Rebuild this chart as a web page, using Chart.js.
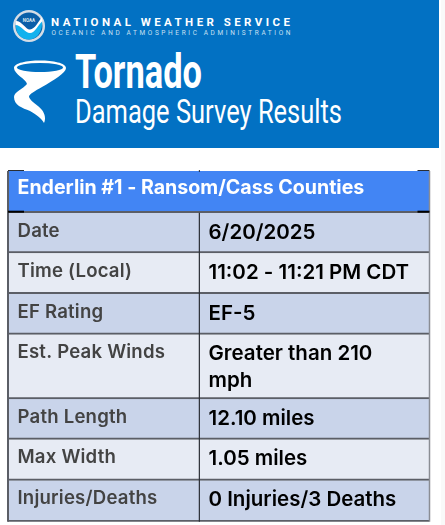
<!DOCTYPE html>
<html>
<head>
<meta charset="utf-8">
<title>Tornado Damage Survey Results</title>
<script src="https://cdn.jsdelivr.net/npm/chart.js@4/dist/chart.umd.min.js"></script>
<style>
  html, body { margin: 0; padding: 0; background: #fff; }
  body { width: 445px; height: 525px; overflow: hidden; position: relative; }
  #banner { position: absolute; left: 0; top: 0; }
  #edge { position: absolute; left: 441px; top: 0; width: 4px; height: 525px; background: #f9f9f9; }
  #table { position: absolute; left: 0; top: 0; width: 445px; height: 525px; }
</style>
</head>
<body>
<div id="edge"></div>
<svg id="banner" width="439" height="148" viewBox="0 0 439 148">
  <rect width="439" height="148" fill="#0271c3"/>
  <!-- noaa seal -->
  <circle cx="29" cy="26" r="16" fill="#d5dde6"/>
  <circle cx="29" cy="26" r="13.5" fill="#0a5fa8"/>
  <path d="M16 24 C22 24 26 32 30 32 C35 32 38 24 42 20 C43 30 38 39.5 29 39.5 C20 39.5 15 32 16 24Z" fill="#12b2ee"/>
  <path d="M16 21 C22 21 26 30 30 29.5 C35 29 38 22 42 17 L42.5 21 C38 25 35 33 30 33 C25 33 21 25 15.5 25Z" fill="#fff"/>
  <text x="29" y="21.5" text-anchor="middle" font-family="Roboto" font-size="4.5" font-weight="700" fill="#dfe8f2">NOAA</text>
  <text x="51" y="26" font-family="Roboto" font-weight="700" font-size="11.5" fill="#fff" textLength="239" lengthAdjust="spacing">NATIONAL WEATHER SERVICE</text>
  <text x="51.5" y="35" font-family="Roboto" font-size="6.5" fill="#c9e0f2" textLength="239" lengthAdjust="spacing">OCEANIC AND ATMOSPHERIC ADMINISTRATION</text>
  <!-- tornado -->
  <path d="M14 68 C14 58 66 58 66 68 C66 73 54 80 42 87 C35 91 29 94 29 97 C31 102 38 105 42 110 C45 114 46 119 44 123 C42 119 37 115 30 111 C22 108 14 105 14 97 C14 92 23 89 27 84 C26 79 14 74 14 68Z" fill="#fff"/>
  <ellipse cx="40" cy="67.5" rx="23" ry="4.6" fill="#0271c3"/>
  <text x="75" y="88" font-family="Roboto" font-weight="700" font-size="49" fill="#fff" textLength="127" lengthAdjust="spacingAndGlyphs">Tornado</text>
  <text x="75" y="123" font-family="Roboto" font-weight="400" font-size="34" fill="#fff" textLength="267" lengthAdjust="spacingAndGlyphs">Damage Survey Results</text>
</svg>
<canvas id="table" width="445" height="525"></canvas>
<script>
const tableTitle = 'Enderlin #1 - Ransom/Cass Counties';
const rowLabels = ['Date', 'Time (Local)', 'EF Rating', 'Est. Peak Winds', 'Path Length', 'Max Width', 'Injuries/Deaths'];
const rowValues = [['6/20/2025'], ['11:02 - 11:21 PM CDT'], ['EF-5'], ['Greater than 210', 'mph'], ['12.10 miles'], ['1.05 miles'], ['0 Injuries/3 Deaths']];
// row spans, title row first
const rowSpans = [41.7, 40.3, 40.7, 40.6, 64.7, 40.3, 41, 41.4];
const columnSplit = 45.4;

const rowColors = ['#4285f4', '#c9d4ea', '#e7ebf4', '#c9d4ea', '#e7ebf4', '#c9d4ea', '#e7ebf4', '#c9d4ea'];
const totalSpan = rowSpans.reduce((a, b) => a + b, 0);

function ruleDataset(xValue, fromSpan, color, width) {
  return {
    type: 'scatter',
    order: -1,
    data: [{ x: xValue, y: fromSpan }, { x: xValue, y: totalSpan }],
    showLine: true,
    pointRadius: 0,
    borderColor: color,
    borderWidth: width,
    clip: false,
    xAxisID: 'xCol',
    yAxisID: 'yLine'
  };
}

const tableText = {
  id: 'tableText',
  afterDatasetsDraw(chart) {
    const ctx = chart.ctx;
    const xCol = chart.scales.xCol;
    const yLine = chart.scales.yLine;
    ctx.save();
    ctx.textBaseline = 'middle';
    ctx.textAlign = 'left';

    // little black marks in the title row corners
    ctx.fillStyle = '#2a2d33';
    ctx.fillRect(xCol.left, yLine.top - 1, 16, 1);
    ctx.fillRect(xCol.right - 12, yLine.top - 1, 12, 1);
    ctx.fillRect(xCol.getPixelForValue(columnSplit) - 0.5, yLine.top - 1, 1, 2);
    ctx.fillStyle = '#000';
    ctx.fillRect(xCol.left, yLine.getPixelForValue(rowSpans[0]) - 2, 16, 2);
    ctx.fillRect(xCol.right - 12, yLine.getPixelForValue(rowSpans[0]) - 2, 12, 2);

    ctx.fillStyle = '#fff';
    ctx.font = '700 19.6px Inter, sans-serif';
    ctx.fillText(tableTitle, 17.5, yLine.getPixelForValue(0) + 17.5);

    let top = rowSpans[0];
    rowLabels.forEach((label, i) => {
      const topPx = yLine.getPixelForValue(top);
      ctx.fillStyle = '#434343';
      ctx.font = '600 18.6px Inter, sans-serif';
      ctx.letterSpacing = '0.2px';
      ctx.fillText(label, 17.5, topPx + 18.5);
      ctx.fillStyle = '#000';
      ctx.font = '600 20.5px Inter, sans-serif';
      ctx.letterSpacing = '0px';
      rowValues[i].forEach((line, j) => {
        ctx.fillText(line, 208.5, topPx + 20 + j * 27);
      });
      top += rowSpans[i + 1];
    });
    ctx.restore();
  }
};

new Chart(document.getElementById('table'), {
  data: {
    datasets: [
      ...rowSpans.map((span, i) => ({
        type: 'bar',
        data: [{ x: 50, y: span }],
        backgroundColor: rowColors[i],
        borderColor: '#5b5e66',
        borderWidth: { top: 0, bottom: 2, left: 0, right: 0 },
        borderSkipped: false,
        barPercentage: 1,
        categoryPercentage: 1,
        xAxisID: 'xCol',
        yAxisID: 'y'
      })),
      ruleDataset(columnSplit, rowSpans[0], '#2c2f36', 1.2),
      ruleDataset(0, 0, '#5b5e66', 2),
      ruleDataset(100, 0, '#8a8d94', 1.5)
    ]
  },
  options: {
    responsive: false,
    animation: false,
    devicePixelRatio: 1,
    layout: { padding: { left: 8, right: 15.5, top: 171, bottom: 3.3 } },
    plugins: { legend: { display: false }, tooltip: { enabled: false } },
    scales: {
      xCol: { display: false, type: 'linear', stacked: true, offset: false, min: 0, max: 100, ticks: { stepSize: 100 } },
      y: { display: false, stacked: true, reverse: true, min: 0, max: totalSpan },
      yLine: { display: false, type: 'linear', reverse: true, min: 0, max: totalSpan }
    }
  },
  plugins: [tableText]
});
</script>
</body>
</html>
